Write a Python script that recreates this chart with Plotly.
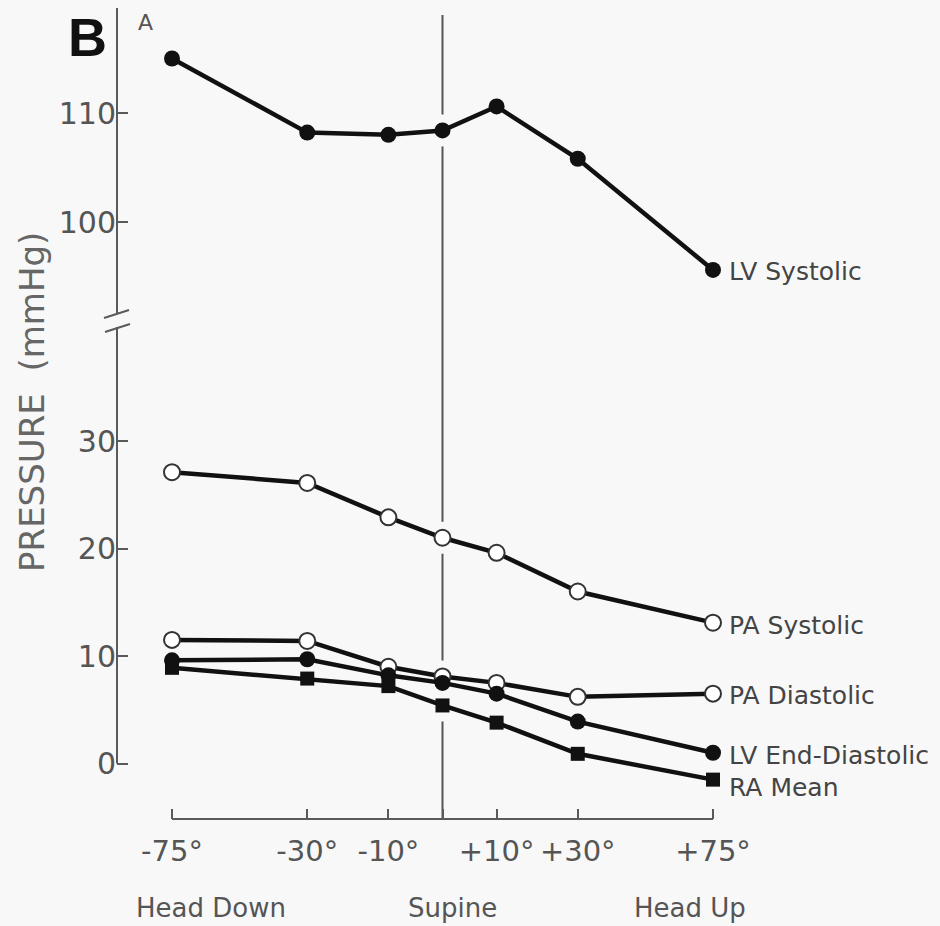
import plotly.graph_objects as go

# ---------------- data ----------------
tilt_angles = [-75, -30, -10, 0, 10, 30, 75]
tilt_labels = ["-75°", "-30°", "-10°", "", "+10°", "+30°", "+75°"]
position_labels = ["Head Down", "Supine", "Head Up"]

lv_systolic = [115.0, 108.2, 108.0, 108.4, 110.6, 105.8, 95.6]
pa_systolic = [27.1, 26.1, 22.9, 21.0, 19.6, 16.0, 13.1]
pa_diastolic = [11.5, 11.4, 9.0, 8.1, 7.5, 6.2, 6.5]
lv_end_diastolic = [9.6, 9.7, 8.2, 7.5, 6.5, 3.9, 1.0]
ra_mean = [8.9, 7.9, 7.2, 5.4, 3.8, 0.9, -1.5]

series_names = ["LV Systolic", "PA Systolic", "PA Diastolic", "LV End-Diastolic", "RA Mean"]
upper_ticks = [100, 110]
lower_ticks = [0, 10, 20, 30]

# ---------------- layout helpers ----------------
W, H = 940, 926
ML, MB = 117, 107
PW, PH = W - ML, H - MB

# non-linear spacing of the tilt axis as printed in the figure
AXIS_POS = {-75: 0, -30: 2.5, -10: 4, 0: 5, 10: 6, 30: 7.5, 75: 10}
xpos = [AXIS_POS[a] for a in tilt_angles]
XS = 54.1  # px per axis unit
X0PX = 172
x_range = [(ML - X0PX) / XS, (W - X0PX) / XS]


def px_x(p):
    return (p - ML) / PW


def px_y(p):
    return (PH - p) / PH


def xdat(p):
    return (p - X0PX) / XS


BREAK_PX = 318
L0, LS = 763.5, 10.75
lower_range = [(L0 - PH) / LS, (L0 - BREAK_PX) / LS]
U110, US = 113, 10.9
upper_range = [110 - (BREAK_PX - U110) / US, 110 + U110 / US]
upper_line_top = 110 + (U110 - 15) / US

TXT = "#555555"
AX = "#5a5a5a"
BG = "#f8f8f8"
FONT = "DejaVu Sans"

fig = go.Figure()

series = [
    (lv_systolic, "y2", dict(symbol="circle", size=16, color="#111111")),
    (pa_systolic, "y", dict(symbol="circle", size=16, color="white", line=dict(color="#333333", width=2))),
    (pa_diastolic, "y", dict(symbol="circle", size=16, color="white", line=dict(color="#333333", width=2))),
    (lv_end_diastolic, "y", dict(symbol="circle", size=16, color="#111111")),
    (ra_mean, "y", dict(symbol="square", size=14, color="#111111")),
]

# background-coloured halos (interrupt the supine line where the curves cross it)
for vals, yref, mk in series:
    fig.add_trace(go.Scatter(x=xpos, y=vals, yaxis=yref, mode="lines+markers",
                             line=dict(color=BG, width=12),
                             marker=dict(size=32, color=BG),
                             hoverinfo="skip", showlegend=False))

for (vals, yref, mk), name in zip(series, series_names):
    fig.add_trace(go.Scatter(x=xpos, y=vals, yaxis=yref, mode="lines+markers", name=name,
                             line=dict(color="#111111", width=4.5),
                             marker=mk, showlegend=False, cliponaxis=False))

shapes = []
# supine reference line, one piece per subplot, below the traces
shapes.append(dict(type="line", xref="x", yref="y", x0=AXIS_POS[0], x1=AXIS_POS[0],
                   y0=lower_range[0], y1=lower_range[1], layer="below",
                   line=dict(color="#555555", width=2)))
shapes.append(dict(type="line", xref="x", yref="y2", x0=AXIS_POS[0], x1=AXIS_POS[0],
                   y0=upper_range[0], y1=upper_line_top, layer="below",
                   line=dict(color="#555555", width=2)))
# x axis line
shapes.append(dict(type="line", xref="x", yref="paper", x0=AXIS_POS[-75], x1=AXIS_POS[75],
                   y0=0, y1=0, line=dict(color=AX, width=2)))
# y axis lines with break
shapes.append(dict(type="line", xref="paper", yref="paper", x0=0, x1=0,
                   y0=px_y(313), y1=px_y(8), line=dict(color=AX, width=2)))
shapes.append(dict(type="line", xref="paper", yref="paper", x0=0, x1=0,
                   y0=px_y(L0), y1=px_y(327), line=dict(color=AX, width=2)))
shapes.append(dict(type="line", xref="paper", yref="paper", x0=px_x(104), x1=px_x(129),
                   y0=px_y(318), y1=px_y(310), line=dict(color=AX, width=2)))
shapes.append(dict(type="line", xref="paper", yref="paper", x0=px_x(105), x1=px_x(130),
                   y0=px_y(332), y1=px_y(324), line=dict(color=AX, width=2)))

annotations = []
label_vals = [lv_systolic, pa_systolic, pa_diastolic, lv_end_diastolic, ra_mean]
label_yref = ["y2", "y", "y", "y", "y"]
label_yshift = [-2, -3, -2, -3, -8]
for name, vals, yr, ys in zip(series_names, label_vals, label_yref, label_yshift):
    annotations.append(dict(x=xpos[-1], y=vals[-1], xref="x", yref=yr, text=name,
                            xanchor="left", yanchor="middle", xshift=14, yshift=ys,
                            showarrow=False, font=dict(family=FONT, size=25, color="#444444")))

for txt, cx in zip(position_labels, [211, 452, 690]):
    annotations.append(dict(x=xdat(cx), y=px_y(908), xref="x", yref="paper", text=txt,
                            xanchor="center", yanchor="middle", showarrow=False,
                            font=dict(family=FONT, size=26, color=TXT)))

annotations.append(dict(x=px_x(32), y=px_y(402), xref="paper", yref="paper",
                        text="PRESSURE  (mmHg)", textangle=-90, showarrow=False,
                        xanchor="center", yanchor="middle",
                        font=dict(family=FONT, size=34, color="#666666")))
annotations.append(dict(x=px_x(87), y=px_y(37), xref="paper", yref="paper", text="<b>B</b>",
                        showarrow=False, xanchor="center", yanchor="middle",
                        font=dict(family="Liberation Sans", size=54, color="#111111")))
annotations.append(dict(x=px_x(145), y=px_y(22), xref="paper", yref="paper", text="A",
                        showarrow=False, xanchor="center", yanchor="middle",
                        font=dict(family=FONT, size=22, color="#555555")))

fig.update_layout(
    width=W, height=H,
    margin=dict(l=ML, r=0, t=0, b=MB),
    paper_bgcolor=BG, plot_bgcolor=BG,
    font=dict(family=FONT, color=TXT),
    xaxis=dict(range=x_range, tickvals=xpos, ticktext=tilt_labels,
               ticks="inside", ticklen=10, tickwidth=2, tickcolor=AX,
               showline=False, showgrid=False, zeroline=False,
               tickfont=dict(family=FONT, size=29, color=TXT),
               ticklabelstandoff=12, anchor="y"),
    yaxis=dict(domain=[0, px_y(BREAK_PX)], range=lower_range, tickvals=lower_ticks,
               ticks="inside", ticklen=11, tickwidth=2, tickcolor=AX,
               showline=False, showgrid=False, zeroline=False,
               tickfont=dict(family=FONT, size=30, color=TXT), anchor="x"),
    yaxis2=dict(domain=[px_y(BREAK_PX), 1], range=upper_range, tickvals=upper_ticks,
                ticks="inside", ticklen=11, tickwidth=2, tickcolor=AX,
                showline=False, showgrid=False, zeroline=False,
                tickfont=dict(family=FONT, size=30, color=TXT), anchor="x"),
    shapes=shapes,
    annotations=annotations,
)

fig.write_html("out.html")
